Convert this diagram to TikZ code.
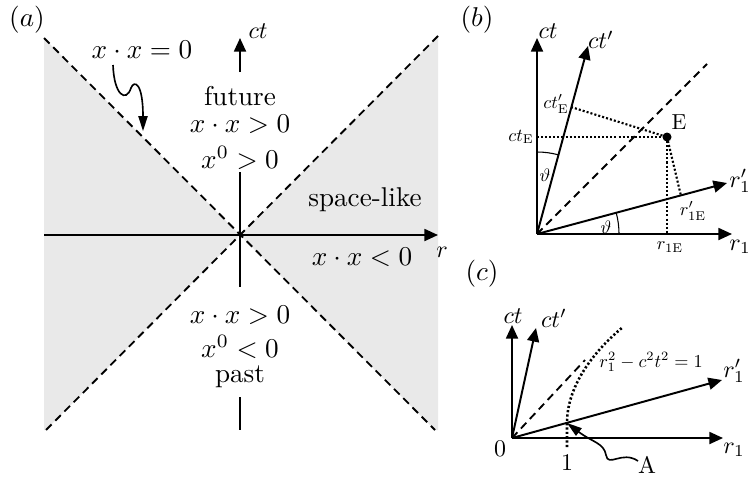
\documentclass[tikz,border=0pt]{standalone}
\usetikzlibrary{arrows.meta}
\definecolor{conegray}{RGB}{233,233,233}
\begin{document}
\begin{tikzpicture}[x=0.368pt,y=-0.368pt,
  font=\normalsize,
  axis/.style={line width=0.72pt,-{Triangle[length=5pt,width=4.4pt]}},
  plainax/.style={line width=0.72pt},
  lightcone/.style={line width=0.68pt,dash pattern=on 2.9pt off 1.9pt},
  dotline/.style={line width=0.78pt,dash pattern=on 0.75pt off 0.75pt},
  snake/.style={line width=0.6pt,-{Triangle[length=5.5pt,width=3.4pt]}},
  lbl/.style={inner sep=0pt},
  axlbl/.style={inner sep=0pt,scale=0.88},
  small/.style={inner sep=0pt,scale=0.67}]
\useasboundingbox (0,0) rectangle (748,477);

% ---------------- panel (a)
\coordinate (O) at (240,235);
\coordinate (UL) at (44,38);
\coordinate (UR) at (438,36);
\coordinate (LL) at (46,430);
\coordinate (LR) at (435,430);
\fill[conegray] (UL) -- (O) -- (LL) -- (44,430) -- cycle;
\fill[conegray] (UR) -- (O) -- (LR) -- (438,430) -- cycle;
\draw[lightcone] (UL) -- (LR);
\draw[lightcone] (UR) -- (LL);
\draw[axis] (44,235) -- (438,235);
\draw[axis] (240,72) -- (240,38);
\draw[plainax] (240,172) -- (240,287);
\draw[plainax] (240,397) -- (240,430);

\node[lbl] (la) at (27,20) {$(a)$};
\node[lbl] (xx0) at (142,50) {$x\cdot x=0$};
\coordinate (xx0tip) at (143,131);
\draw[snake] (113,65) .. controls (114,95) and (126,103) .. (131,88)
  .. controls (134,80) and (143,82) .. (xx0tip);
\node[axlbl] (lct) at (258,31) {$ct$};
\node[lbl] (fut) at (240,96) {future};
\node[lbl] (fut2) at (240,124) {$x\cdot x>0$};
\node[lbl] (fut3) at (240,158) {$x^0>0$};
\node[lbl] (sl) at (365,200) {space-like};
\node[lbl] (sl2) at (362,257) {$x\cdot x<0$};
\node[axlbl] (lr) at (442,252) {$r$};
\node[lbl] (pa1) at (240,315) {$x\cdot x>0$};
\node[lbl] (pa2) at (240,347) {$x^0<0$};
\node[lbl] (pa3) at (240,377) {past};

% ---------------- panel (b)
\coordinate (Ob) at (537,234);
\coordinate (E) at (667,137);
\coordinate (P) at (571,107);
\coordinate (Q) at (681,196);
\coordinate (CtE) at (537,137);
\coordinate (RE) at (667,234);
\draw[axis] (Ob) -- (537,38);
\draw[axis] (Ob) -- (588,46);
\draw[axis] (Ob) -- (732,234);
\draw[axis] (Ob) -- (727,183);
\draw[lightcone] (Ob) -- (707,64);
\draw[dotline] (CtE) -- (E);
\draw[dotline] (P) -- (E);
\draw[dotline] (E) -- (RE);
\draw[dotline] (E) -- (Q);
\fill (E) circle[radius=4.5];
\draw[line width=0.4pt] (537,152) arc[start angle=-90,end angle=-75,radius=82];
\draw[line width=0.4pt] (619,234) arc[start angle=0,end angle=-15,radius=82];

\node[lbl] (lb) at (477,20) {$(b)$};
\node[axlbl] (bct) at (548,31) {$ct$};
\node[axlbl] (bctp) at (601,40) {$ct'$};
\node[small] (bctpE) at (556,104) {$ct'_{\mathrm{E}}$};
\node[small] (bctE) at (521,137) {$ct_{\mathrm{E}}$};
\node[inner sep=0pt,scale=0.8] (bE) at (679,122) {E};
\node[small] (bth1) at (545,175) {$\vartheta$};
\node[small] (bth2) at (606,227) {$\vartheta$};
\node[small] (brp1E) at (693,211) {$r'_{1\mathrm{E}}$};
\node[small] (br1E) at (670,247) {$r_{1\mathrm{E}}$};
\node[axlbl] (brp) at (740,181) {$r'_1$};
\node[axlbl] (br) at (740,247) {$r_1$};

% ---------------- panel (c)
\coordinate (Oc) at (512,438);
\coordinate (A) at (567,423);
\draw[axis] (Oc) -- (512,325);
\draw[axis] (Oc) -- (536,328);
\draw[axis] (Oc) -- (723,438);
\draw[axis] (Oc) -- (722,380);
\draw[lightcone] (Oc) -- (585,360);
\draw[line width=0.95pt,dash pattern=on 0.8pt off 0.8pt]
  (567,447) -- (A) .. controls (567,385) and (595,350) .. (623,327);

\node[lbl] (lc) at (482,274) {$(c)$};
\node[axlbl] (cct) at (513,316) {$ct$};
\node[axlbl] (cctp) at (554,318) {$ct'$};
\node[axlbl] (c0) at (500,449) {$0$};
\node[axlbl] (c1) at (567,463) {$1$};
\node[axlbl] (cA) at (647,465) {A};
\node[small] (hyp) at (651,362) {$r_1^2-c^2t^2=1$};
\node[axlbl] (crp) at (734,371) {$r'_1$};
\node[axlbl] (cr) at (734,450) {$r_1$};
\draw[snake] (638,461) .. controls (622,450) and (608,468) .. (606,455)
  .. controls (604,443) and (592,442) .. (A);
\end{tikzpicture}
\end{document}
